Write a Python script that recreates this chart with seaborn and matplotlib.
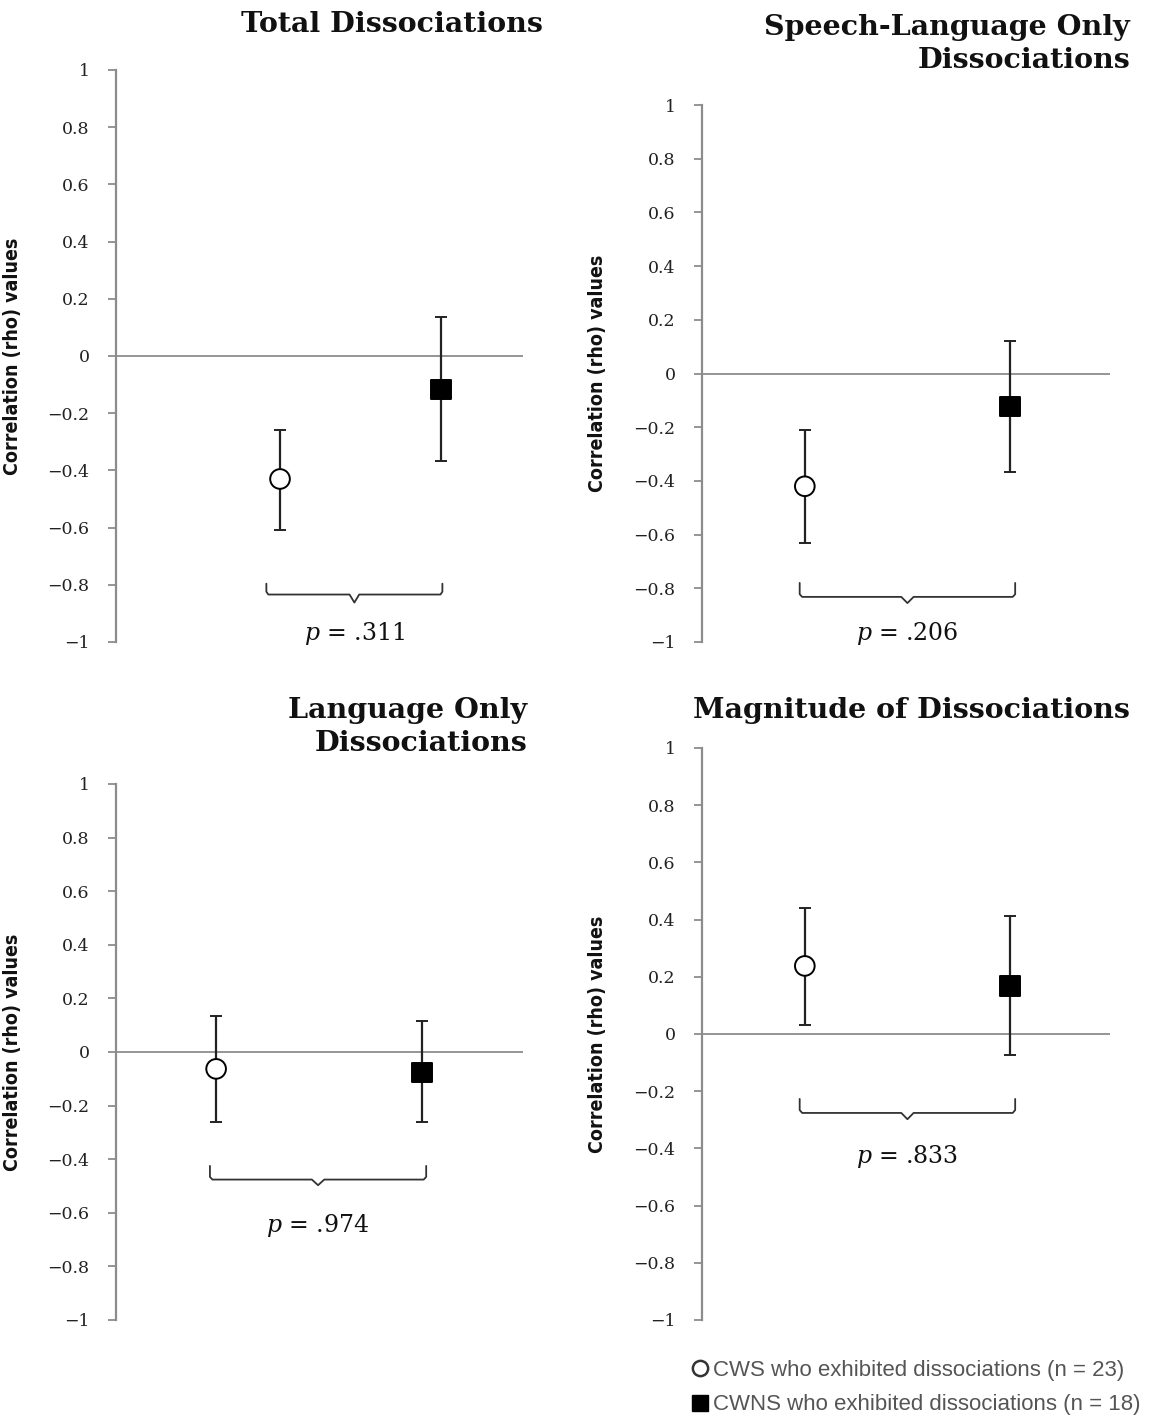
import numpy as np
import pandas as pd
import matplotlib.pyplot as plt
from matplotlib.lines import Line2D
import seaborn as sns

# =========================
# DADES (rho i interval per grup)
# =========================
panel_titles = ["Total Dissociations",
                "Speech-Language Only\nDissociations",
                "Language Only\nDissociations",
                "Magnitude of Dissociations"]
groups = ["CWS", "CWNS"]
rho_cws = [-0.43, -0.42, -0.063, 0.238]
lo_cws = [-0.61, -0.63, -0.26, 0.033]
hi_cws = [-0.26, -0.21, 0.134, 0.442]
rho_cwns = [-0.117, -0.123, -0.076, 0.168]
lo_cwns = [-0.367, -0.368, -0.263, -0.074]
hi_cwns = [0.135, 0.121, 0.115, 0.414]
p_values = [".311", ".206", ".974", ".833"]
legend_labels = ["CWS who exhibited dissociations (n = 23)",
                 "CWNS who exhibited dissociations (n = 18)"]
ytick_vals = [1, 0.8, 0.6, 0.4, 0.2, 0, -0.2, -0.4, -0.6, -0.8, -1]
ytick_labels = ["1", "0.8", "0.6", "0.4", "0.2", "0", "\u22120.2", "\u22120.4",
                "\u22120.6", "\u22120.8", "\u22121"]

# =========================
# LAYOUT
# =========================
W, H = 1152, 1417
axes_px = [(116, 523, 70, 642), (702, 1110, 105, 642),
           (116, 523, 784, 1320), (702, 1110, 748, 1320)]
x_frac = [(0.403, 0.798), (0.252, 0.755), (0.246, 0.752), (0.252, 0.755)]
brace_x = [(-0.085, 1.01), (-0.025, 1.025), (-0.03, 1.02), (-0.025, 1.025)]
brace_y = [(-0.796, -0.834, -0.862), (-0.78, -0.832, -0.855),
           (-0.425, -0.476, -0.497), (-0.227, -0.276, -0.298)]
p_y = [-0.97, -0.97, -0.646, -0.43]
title_pos = [(543, 25), (1130, 44), (527, 727), (1130, 710)]

sns.set_theme(style="white")
plt.rcParams['font.family'] = ['DejaVu Serif']
plt.rcParams['mathtext.fontset'] = 'dejavuserif'

fig = plt.figure(figsize=(W / 100, H / 100), dpi=100)
grey = "#8c8c8c"


def draw_brace(ax, x0, x1, ytop, ybot, ytip):
    xm = (x0 + x1) / 2
    d = 0.03
    r = 0.012
    xs = [x0, x0, x0 + r, xm - d, xm, xm + d, x1 - r, x1, x1]
    ys = [ytop, ybot + 0.01, ybot, ybot, ytip, ybot, ybot, ybot + 0.01, ytop]
    ax.plot(xs, ys, color="#333333", lw=1.3, solid_joinstyle='round')


for i in range(4):
    x0p, x1p, y0p, y1p = axes_px[i]
    ax = fig.add_axes([x0p / W, 1 - y1p / H, (x1p - x0p) / W, (y1p - y0p) / H])

    df = pd.DataFrame({
        'group': groups,
        'pos': [0, 1],
        'rho': [rho_cws[i], rho_cwns[i]],
        'lo': [lo_cws[i], lo_cwns[i]],
        'hi': [hi_cws[i], hi_cwns[i]],
    })

    ax.axhline(0, color=grey, lw=1.3, zorder=1)
    ax.errorbar(df['pos'], df['rho'],
                yerr=[df['rho'] - df['lo'], df['hi'] - df['rho']],
                fmt='none', ecolor='#222222', elinewidth=1.6, capsize=4.5,
                capthick=1.4, zorder=2)
    sns.scatterplot(data=df, x='pos', y='rho', hue='group', style='group',
                    palette={'CWS': 'white', 'CWNS': 'black'},
                    markers={'CWS': 'o', 'CWNS': 's'}, s=200,
                    edgecolor='black', linewidth=1.4, legend=False,
                    zorder=3, ax=ax)

    # eix x segons la posició dels punts
    f0, f1 = x_frac[i]
    width = 1 / (f1 - f0)
    left = -f0 * width
    ax.set_xlim(left, left + width)
    ax.set_ylim(-1, 1)

    draw_brace(ax, brace_x[i][0], brace_x[i][1], *brace_y[i])
    ax.text((brace_x[i][0] + brace_x[i][1]) / 2, p_y[i],
            r"$p$ = " + p_values[i], ha='center', va='center',
            fontsize=17, family='DejaVu Serif', color='#111111')

    ax.set_yticks(ytick_vals)
    ax.set_yticklabels(ytick_labels, fontsize=12.5, color='#222222')
    ax.set_xticks([])
    ax.set_xlabel("")
    ax.set_ylabel("Correlation (rho) values", fontsize=14, fontweight='bold',
                  family='DejaVu Sans', fontstretch='condensed',
                  color='#111111')
    ax.yaxis.set_label_coords(-0.232, 0.5)
    ax.tick_params(axis='y', left=True, length=6, width=1.3, color=grey,
                   direction='out', pad=13)
    for s in ['top', 'right', 'bottom']:
        ax.spines[s].set_visible(False)
    ax.spines['left'].set_color(grey)
    ax.spines['left'].set_linewidth(1.6)
    ax.set_facecolor('white')

    tx, ty = title_pos[i]
    fig.text(tx / W, 1 - ty / H, panel_titles[i], ha='right', va='center',
             fontsize=20.5, fontweight='bold', family='DejaVu Serif',
             linespacing=1.25, color='#111111')

# =========================
# LLEGENDA
# =========================
handles = [Line2D([0], [0], marker='o', color='none', markerfacecolor='white',
                  markeredgecolor='#333333', markeredgewidth=1.8, markersize=11),
           Line2D([0], [0], marker='s', color='none', markerfacecolor='black',
                  markeredgecolor='black', markersize=11)]
fig.legend(handles, legend_labels, loc='upper left',
           bbox_to_anchor=(693 / W, 1 - 1360 / H), frameon=False,
           borderpad=0, borderaxespad=0,
           handlelength=0.6, handletextpad=0.3, labelspacing=0.6,
           prop={'family': 'Liberation Sans', 'size': 16}, labelcolor='#555555')

plt.savefig("out.png", dpi=100)
plt.close()
